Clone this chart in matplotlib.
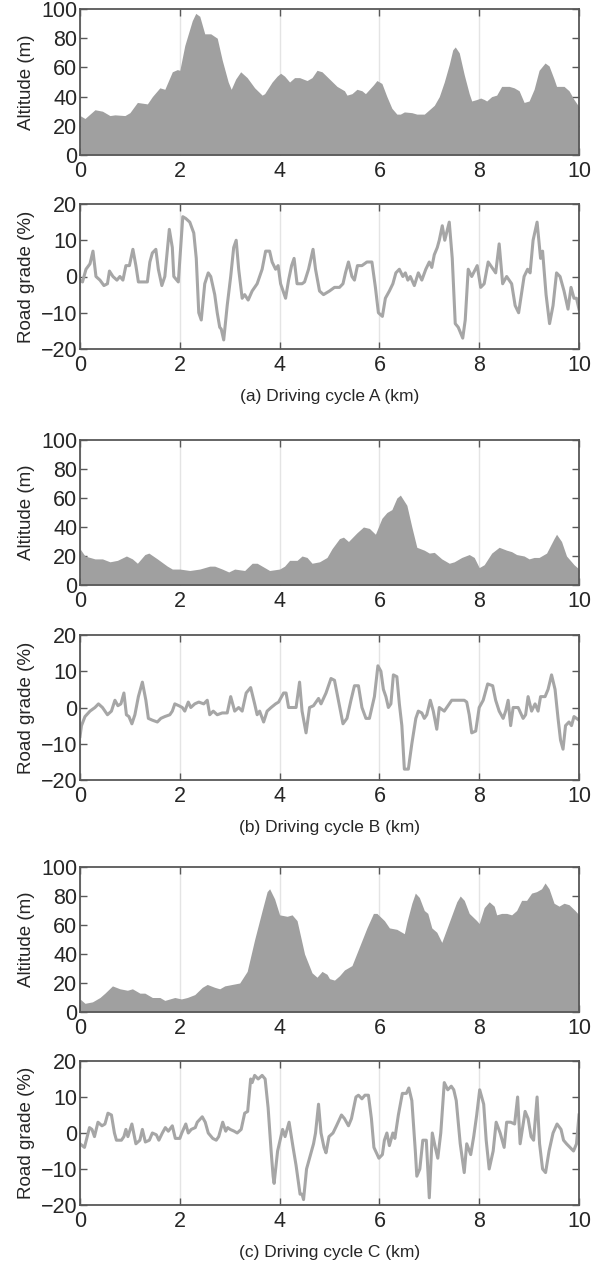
import matplotlib
matplotlib.use("Agg")
import matplotlib.pyplot as plt
import numpy as np

# ---------------- Driving cycle A ----------------
alt_a_km = [0, 0.1, 0.3, 0.45, 0.6, 0.7, 0.9, 1.0, 1.15, 1.35, 1.45, 1.6, 1.7, 1.85, 1.95, 2.0,
            2.1, 2.25, 2.32, 2.4, 2.5, 2.62, 2.75, 2.85, 2.97, 3.03, 3.12, 3.22, 3.35, 3.5, 3.65,
            3.7, 3.85, 3.95, 4.02, 4.1, 4.2, 4.3, 4.4, 4.55, 4.65, 4.75, 4.85, 5.0, 5.15, 5.3,
            5.35, 5.45, 5.55, 5.65, 5.72, 5.8, 5.88, 5.95, 6.05, 6.15, 6.25, 6.35, 6.42, 6.5,
            6.65, 6.75, 6.9, 7.0, 7.1, 7.2, 7.3, 7.4, 7.47, 7.52, 7.6, 7.7, 7.8, 7.85, 7.95,
            8.03, 8.1, 8.15, 8.25, 8.35, 8.45, 8.6, 8.7, 8.8, 8.9, 9.0, 9.1, 9.2, 9.32, 9.4,
            9.5, 9.55, 9.7, 9.8, 9.9, 10.0]
alt_a_m = [27, 25, 31, 30, 27, 27.5, 27, 29, 36, 35, 40, 46, 45, 57, 58.5, 58,
           75, 92, 97, 95, 83, 83, 80, 65, 50, 45, 52, 57, 53, 46, 41,
           42, 50, 54, 56, 54, 50, 53, 53, 51, 53, 58, 57, 52, 47, 44,
           41, 42, 45, 44, 42, 45, 48, 51, 49, 40, 32, 28, 28, 29.5,
           29, 28, 28, 31, 34, 40, 50, 62, 72, 74, 70, 55, 42, 37, 38,
           39, 38, 37, 40, 41, 47, 47, 46, 44, 36, 37, 45, 58, 63, 61,
           52, 47, 47, 44, 38, 33]

grade_a_km = [0, 0.05, 0.12, 0.2, 0.26, 0.32, 0.4, 0.48, 0.55, 0.59, 0.66, 0.74, 0.8, 0.86, 0.92,
              0.99, 1.06, 1.12, 1.17, 1.35, 1.4, 1.45, 1.52, 1.57, 1.64, 1.7, 1.79, 1.85, 1.88,
              1.97, 2.06, 2.12, 2.2, 2.28, 2.33, 2.38, 2.43, 2.5, 2.57, 2.62, 2.7, 2.75, 2.8,
              2.83, 2.88, 2.95, 3.02, 3.08, 3.13, 3.18, 3.25, 3.3, 3.37, 3.45, 3.55, 3.65, 3.72,
              3.8, 3.85, 3.92, 3.97, 4.02, 4.12, 4.18, 4.24, 4.29, 4.35, 4.45, 4.5, 4.58, 4.67,
              4.72, 4.8, 4.88, 5.0, 5.1, 5.2, 5.27, 5.32, 5.38, 5.45, 5.5, 5.56, 5.65, 5.75,
              5.85, 5.92, 5.98, 6.06, 6.12, 6.2, 6.27, 6.33, 6.4, 6.47, 6.52, 6.57, 6.62, 6.7,
              6.78, 6.85, 6.93, 7.0, 7.05, 7.1, 7.16, 7.2, 7.26, 7.31, 7.4, 7.46, 7.52, 7.58,
              7.67, 7.72, 7.78, 7.85, 7.96, 8.03, 8.1, 8.18, 8.28, 8.33, 8.4, 8.47, 8.55, 8.65,
              8.72, 8.79, 8.9, 8.97, 9.02, 9.08, 9.16, 9.23, 9.27, 9.34, 9.41, 9.48, 9.55, 9.62,
              9.7, 9.78, 9.84, 9.9, 9.95, 10.0]
grade_a_pct = [-1, -1.5, 2, 3.5, 7, 0, -1, -2.5, -2, 1.5, 0, -1, 0, -1, 3,
               3, 7.5, 3, -1.5, -1.5, 4, 6.5, 7.5, 2, -2.5, 0, 13, 8, 0,
               -1.5, 16.5, 16, 15, 12, 5, -10, -12, -2, 1, 0, -5, -10, -14,
               -14.5, -17.5, -8, 0, 8, 10, 2, -6, -5, -6.5, -4, -2, 2, 7,
               7, 4, 2, 3, -2, -6, -1, 3, 5, -2, -2, -1.5, 2, 7.5,
               2, -4, -5, -4, -3, -3, -2, 1, 4, 0, -1, 3, 3, 4,
               4, -3, -10, -11, -6, -4, -2, 1, 2, 0, 1, -1, 0, -2.5,
               1, -1, 2, 4, 2.5, 6, 8, 10, 14, 10, 15, 5, -13, -14,
               -17, -12, 2, 0, 3, -3, -2, 4, 2, 1, 9, -2, 0, -2,
               -8, -10, 0, 2, 1, 10, 15, 5, 7, -5, -13, -8, 1, 0,
               -4, -9, -3, -6, -6, -9]

# ---------------- Driving cycle B ----------------
alt_b_km = [0, 0.1, 0.3, 0.45, 0.6, 0.75, 0.93, 1.05, 1.15, 1.3, 1.38, 1.55, 1.75, 1.85, 2.0,
            2.2, 2.4, 2.6, 2.7, 2.85, 2.98, 3.1, 3.3, 3.45, 3.55, 3.7, 3.8, 4.0, 4.1, 4.2,
            4.35, 4.45, 4.55, 4.65, 4.8, 4.95, 5.05, 5.2, 5.28, 5.38, 5.55, 5.68, 5.8, 5.92,
            6.05, 6.15, 6.25, 6.35, 6.42, 6.55, 6.65, 6.75, 6.9, 7.0, 7.1, 7.25, 7.4, 7.5,
            7.65, 7.8, 7.9, 8.0, 8.1, 8.25, 8.4, 8.55, 8.65, 8.75, 8.9, 9.0, 9.1, 9.2, 9.35,
            9.5, 9.55, 9.65, 9.75, 9.9, 10.0]
alt_b_m = [25, 20, 18, 18, 16, 17, 20, 18, 15, 21, 22, 18, 13, 11, 11,
           10, 11, 13, 13, 11, 9, 11, 10, 15, 15, 12, 10, 11, 13, 17,
           17, 20, 19, 15, 16, 19, 25, 32, 33, 30, 36, 40, 39, 35,
           46, 50, 52, 60, 62, 55, 40, 26, 24, 22, 22.5, 18, 15, 16,
           19, 21, 19, 12, 14, 22, 26, 24, 23, 21, 20, 18, 19, 19, 22,
           32, 35, 30, 20, 14, 11]

grade_b_km = [0, 0.03, 0.1, 0.2, 0.3, 0.37, 0.45, 0.55, 0.63, 0.7, 0.76, 0.82, 0.88, 0.93, 0.98,
              1.04, 1.1, 1.17, 1.25, 1.32, 1.37, 1.45, 1.55, 1.62, 1.7, 1.8, 1.85, 1.9, 1.98,
              2.05, 2.1, 2.17, 2.22, 2.3, 2.38, 2.48, 2.55, 2.6, 2.67, 2.75, 2.85, 2.95, 3.02,
              3.1, 3.18, 3.25, 3.33, 3.42, 3.5, 3.55, 3.6, 3.68, 3.75, 3.83, 3.92, 3.98, 4.08,
              4.13, 4.18, 4.33, 4.4, 4.45, 4.53, 4.6, 4.68, 4.78, 4.83, 4.93, 5.03, 5.1, 5.15,
              5.27, 5.35, 5.43, 5.5, 5.58, 5.65, 5.73, 5.8, 5.9, 5.97, 6.03, 6.08, 6.13, 6.18,
              6.23, 6.28, 6.35, 6.4, 6.45, 6.5, 6.58, 6.65, 6.73, 6.78, 6.85, 6.9, 6.95, 7.02,
              7.08, 7.15, 7.2, 7.3, 7.35, 7.45, 7.6, 7.7, 7.75, 7.8, 7.85, 7.93, 8.0, 8.08,
              8.17, 8.27, 8.33, 8.4, 8.48, 8.53, 8.58, 8.63, 8.68, 8.78, 8.88, 8.93, 8.98, 9.05,
              9.12, 9.18, 9.23, 9.32, 9.38, 9.45, 9.52, 9.58, 9.63, 9.68, 9.73, 9.8, 9.85, 9.9,
              10.0]
grade_b_pct = [-8, -5, -2.5, -1, 0, 1, 0, -2, -1, 2, 0.5, 1, 4, -2, -2.5,
               -4.5, -2, 3, 7, 2, -3, -3.5, -4, -3, -2.5, -2, -1, 1, 0.5,
               0, -1, 1.5, 0, 1, 1.5, 1, 2, -2, -1, -2, -1.5, -1.5, 3,
               -1, 0, -1, 4, 5.5, 1, -2, -1, -4, -1, 0, 1, 1.5, 4,
               4, 0, 0, 7, -1, -7, 0, 0.5, 2.5, 1, 4, 8, 7.5, 4,
               -4.5, -3, 2, 6, 6, 0, -3, -3, 3, 11.5, 10, 5, 3, 0,
               1, 9, 8.5, 1, -5, -17, -17, -10, -3, -1, -1.5, -3, -2, 2,
               -1, -6, 0, -1, 0, 2, 2, 2, 1.5, -2, -7, -6.5, 0, 2,
               6.5, 6, 2, -1, -3, -1, 2, -5, 0, 0, -3, -2, 3, -1,
               1, -1, 3, 3, 5, 9, 5, -3, -9, -11.5, -5, -4, -5, -2.5,
               -3.5]

# ---------------- Driving cycle C ----------------
alt_c_km = [0, 0.1, 0.25, 0.4, 0.5, 0.65, 0.8, 0.95, 1.05, 1.2, 1.3, 1.45, 1.6, 1.7, 1.8,
            1.9, 2.03, 2.15, 2.3, 2.45, 2.55, 2.7, 2.8, 2.9, 3.05, 3.2, 3.35, 3.5, 3.65,
            3.75, 3.8, 3.9, 4.0, 4.15, 4.25, 4.35, 4.5, 4.65, 4.75, 4.85, 4.95, 5.0, 5.1,
            5.2, 5.3, 5.45, 5.6, 5.75, 5.88, 5.95, 6.1, 6.2, 6.35, 6.5, 6.55, 6.65, 6.72,
            6.8, 6.9, 6.97, 7.05, 7.15, 7.25, 7.4, 7.55, 7.62, 7.7, 7.8, 7.95, 8.0, 8.1,
            8.2, 8.3, 8.35, 8.45, 8.55, 8.65, 8.75, 8.85, 8.95, 9.05, 9.15, 9.25, 9.32, 9.4,
            9.5, 9.6, 9.7, 9.8, 9.92, 10.0]
alt_c_m = [9, 6, 7, 10, 13, 18, 16, 15, 16, 13, 13, 10, 10, 8, 9,
           10, 9, 10, 12, 17, 19, 17, 16, 18, 19, 20, 28, 50, 70,
           83, 85, 78, 67, 66, 67, 63, 40, 27, 24, 28, 26, 23, 22,
           25, 29, 32, 45, 58, 68, 68, 63, 58, 57, 54, 62, 75, 82,
           79, 70, 68, 58, 55, 48, 62, 76, 80, 77, 68, 63, 61, 72,
           76, 73, 67, 68, 68, 67, 70, 77, 77, 82, 83, 85, 89, 85,
           75, 73, 75, 74, 70, 67]

grade_c_km = [0, 0.09, 0.19, 0.24, 0.29, 0.36, 0.44, 0.5, 0.56, 0.63, 0.69, 0.73, 0.83, 0.88,
              0.92, 0.96, 1.04, 1.12, 1.2, 1.25, 1.31, 1.39, 1.45, 1.53, 1.58, 1.65, 1.71, 1.77,
              1.85, 1.91, 2.0, 2.04, 2.12, 2.17, 2.23, 2.31, 2.35, 2.45, 2.51, 2.57, 2.66, 2.73,
              2.78, 2.86, 2.92, 2.96, 3.01, 3.09, 3.15, 3.23, 3.3, 3.36, 3.42, 3.45, 3.5, 3.57,
              3.65, 3.71, 3.77, 3.83, 3.87, 3.89, 3.96, 4.06, 4.11, 4.19, 4.27, 4.33, 4.41, 4.45,
              4.48, 4.54, 4.62, 4.68, 4.72, 4.78, 4.83, 4.89, 4.93, 4.99, 5.07, 5.14, 5.24, 5.3,
              5.38, 5.44, 5.53, 5.58, 5.65, 5.71, 5.78, 5.84, 5.89, 5.99, 6.06, 6.1, 6.15, 6.2,
              6.27, 6.31, 6.38, 6.46, 6.54, 6.59, 6.65, 6.72, 6.75, 6.81, 6.87, 6.94, 7.0, 7.06,
              7.12, 7.17, 7.23, 7.3, 7.37, 7.44, 7.49, 7.54, 7.62, 7.7, 7.75, 7.83, 7.89, 7.95,
              8.01, 8.09, 8.14, 8.2, 8.28, 8.34, 8.42, 8.5, 8.55, 8.63, 8.71, 8.77, 8.82, 8.92,
              8.98, 9.04, 9.09, 9.16, 9.21, 9.27, 9.33, 9.4, 9.48, 9.56, 9.64, 9.69, 9.75, 9.89,
              9.95, 10.0]
grade_c_pct = [-3, -4, 1.5, 1, -1, 3, 2, 2.5, 5.5, 5, 0, -2, -2, -1,
               1, -1, 2.5, -3, -2, 1, -2.5, -2, 0, -0.5, -2, 0, 1.5, 0.5,
               2, -1.5, -1.5, 0, 2.5, 0, 1, 1.5, 3, 4.5, 3, 0, -1.5, -2,
               -1, 3, 0.5, 1.5, 1, 0.5, 0, 1, 5.5, 6, 15, 14, 16, 15,
               16, 15, 7, -5, -12, -14, -5, 1, -1, 3, -4, -9, -17, -17,
               -18.5, -10, -6, -3, 0, 8, 0, -4, -5.5, -1, 0, 2, 5, 4,
               2, 4, 10, 10.5, 9.5, 10.5, 10.5, 4, -4, -7, -6, -2, 0, -3.5,
               0, -1.5, 5, 11, 11, 12.5, 9, -5, -12, -10, -2, -2, -18, 0,
               -4, -7, 0, 14, 12, 13, 12, 9, -3, -11, -3, -6, -1, 5,
               12, 8, -2, -10, -5, 3, 0, -4, 3, 3, 2.5, 10, -3, 6,
               4, -1, -2, 10, -3, -10, -11, -5, 0, 2.5, 1, -2, -3, -5,
               -3, 5]

cycle_labels = ["(a) Driving cycle A (km)", "(b) Driving cycle B (km)", "(c) Driving cycle C (km)"]
alt_series = [(alt_a_km, alt_a_m), (alt_b_km, alt_b_m), (alt_c_km, alt_c_m)]
grade_series = [(grade_a_km, grade_a_pct), (grade_b_km, grade_b_pct), (grade_c_km, grade_c_pct)]

x_ticks = [0, 2, 4, 6, 8, 10]
alt_ticks = [0, 20, 40, 60, 80, 100]
grade_ticks = [-20, -10, 0, 10, 20]

plt.rcParams["font.family"] = ["Liberation Sans", "DejaVu Sans"]

W, H = 606, 1266
fig = plt.figure(figsize=(W / 100, H / 100), dpi=100)

# panel rectangles in pixels: (top, bottom)
rows = [(9, 155), (204, 349), (440, 585), (635, 780), (867, 1012), (1061, 1205)]
left_px, right_px = 80, 579

FILL = "#a0a0a0"
LINE = "#a6a6a6"
SPINE = "#585858"
TEXT = "#262626"
GRID = "#e4e4e4"


def style(ax, yticks):
    ax.set_xlim(0, 10)
    ax.set_xticks(x_ticks)
    ax.set_yticks(yticks)
    ax.set_ylim(yticks[0], yticks[-1])
    ax.set_axisbelow(True)
    ax.grid(axis="x", color=GRID, linewidth=1.0)
    ax.tick_params(direction="in", length=5, width=1.0, color=SPINE, top=True, right=True,
                   labelsize=15.5, labelcolor=TEXT)
    ax.tick_params(axis="x", pad=4)
    ax.tick_params(axis="y", pad=2)
    for sp in ax.spines.values():
        sp.set_color(SPINE)
        sp.set_linewidth(1.3)
    ax.yaxis.set_label_coords(-0.09, 0.5)


for i in range(3):
    top, bot = rows[2 * i]
    ax_alt = fig.add_axes([left_px / W, 1 - bot / H, (right_px - left_px) / W, (bot - top) / H])
    xs, ys = alt_series[i]
    ax_alt.fill_between(xs, ys, 0, color=FILL, linewidth=0)
    style(ax_alt, alt_ticks)
    ax_alt.set_ylabel("Altitude (m)", fontsize=13.5, color=TEXT)

    top, bot = rows[2 * i + 1]
    ax_gr = fig.add_axes([left_px / W, 1 - bot / H, (right_px - left_px) / W, (bot - top) / H])
    xs, ys = grade_series[i]
    ax_gr.plot(xs, ys, color=LINE, linewidth=2.2, solid_joinstyle="round")
    style(ax_gr, grade_ticks)
    ax_gr.set_ylabel("Road grade (%)", fontsize=13.5, color=TEXT)
    ax_gr.set_xlabel(cycle_labels[i], fontsize=12.5, color=TEXT, labelpad=10)

fig.savefig("out.png", dpi=100)
